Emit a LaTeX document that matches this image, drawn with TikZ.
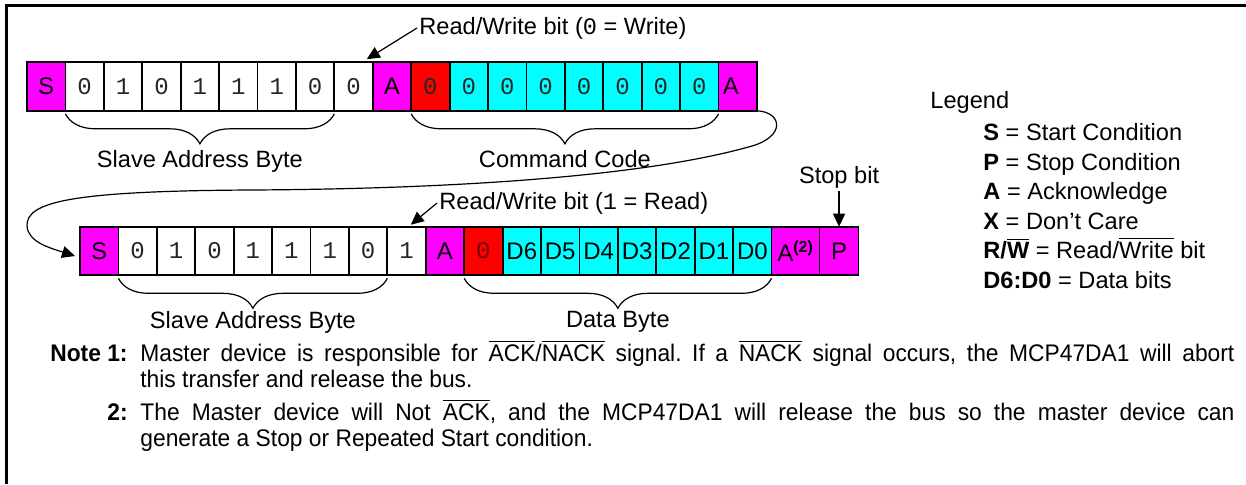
\documentclass[tikz,border=0pt]{standalone}
\usepackage{fontspec}
\setmainfont{Liberation Sans}
\newfontfamily\bitfont{Liberation Mono}
\newfontfamily\notefont[FakeStretch=0.95]{Liberation Sans}
\usetikzlibrary{arrows.meta,positioning,decorations.pathreplacing}
\definecolor{startmag}{RGB}{255,0,255}
\definecolor{datacyan}{RGB}{0,255,255}
\definecolor{zerored}{RGB}{255,0,0}
\newcommand{\ovl}[1]{$\overline{\mbox{#1}}$}
\frenchspacing

\tikzset{
  cell/.style={draw, line width=0.9pt, outer sep=0pt, inner sep=0pt, minimum width=19.21pt, minimum height=24.3pt, font=\fontsize{12}{14}\selectfont},
  magcell/.style={cell, fill=startmag},
  bitcell/.style={cell, font=\fontsize{12}{14}\bitfont, text=black!85},
  redbit/.style={bitcell, fill=zerored},
  cyanbit/.style={bitcell, fill=datacyan},
  cyancell/.style={cell, fill=datacyan},
  bytebrace/.style={decorate, decoration={brace, mirror, amplitude=15pt}, line width=0.6pt},
  pointer/.style={-{Triangle[length=6.5pt,width=6pt]}, line width=0.6pt},
  lbl/.style={inner sep=1pt},
  notetext/.style={anchor=base west, inner sep=0pt, text width=547pt, align=justify, font=\notefont\fontsize{12}{13}\selectfont},
  notelbl/.style={anchor=base east, inner sep=0pt, font=\notefont\fontsize{12}{13}\selectfont\bfseries},
}

\begin{document}
\begin{tikzpicture}[x=0.5pt, y=-0.5pt, font=\fontsize{11.8}{14}\selectfont]
  \useasboundingbox (0,0) rectangle (1246,484);
  \draw[line width=1.3pt] (6.5,484) -- (6.5,5.5) -- (1246,5.5);

  % write: address, command code
  \foreach \txt/\sty [count=\i from 0] in {S/magcell, 0/bitcell, 1/bitcell, 0/bitcell, 1/bitcell, 1/bitcell, 1/bitcell, 0/bitcell, 0/bitcell, A/magcell, 0/redbit, 0/cyanbit, 0/cyanbit, 0/cyanbit, 0/cyanbit, 0/cyanbit, 0/cyanbit, 0/cyanbit, {\makebox[15pt][l]{A}}/magcell}
    \node[\sty] (a\i) at ({27+38.42*(\i+0.5)}, 86.5) {\txt};

  % read: address, data byte
  \foreach \txt/\sty [count=\i from 0] in {S/magcell, 0/bitcell, 1/bitcell, 0/bitcell, 1/bitcell, 1/bitcell, 1/bitcell, 0/bitcell, 1/bitcell, A/magcell, 0/redbit, D6/cyancell, D5/cyancell, D4/cyancell, D3/cyancell, D2/cyancell, D1/cyancell, D0/cyancell}
    \node[\sty] (b\i) at ({80+38.42*(\i+0.5)}, 251) {\txt};
  \node[magcell, minimum width=24pt, right=0pt of b17] (nack) {A\textsuperscript{\textbf{(2)}}};
  \node[magcell, minimum width=19.5pt, right=0pt of nack] (pbox) {P};
  \node[redbit, text=black!55!zerored] at (b10) {0};

  % braces
  \draw[bytebrace] ([yshift=-1.5pt]a1.south west) -- ([yshift=-1.5pt]a7.south east) node[lbl, midway, below=17pt] {Slave Address Byte};
  \draw[bytebrace] ([yshift=-1.5pt]a10.south west) -- ([yshift=-1.5pt]a17.south east) node[lbl, midway, below=17pt] {Command Code};
  \draw[bytebrace] ([yshift=-1.5pt]b1.south west) -- ([yshift=-1.5pt]b7.south east) node[lbl, midway, below=15pt] {Slave Address Byte};
  \draw[bytebrace] ([yshift=-1.5pt]b10.south west) -- ([yshift=-1.5pt]b17.south east) node[lbl, midway, below=15pt] {Data Byte};

  % pointers
  \node[lbl, anchor=west] (rwone) at (417,28) {Read/Write bit ({\bitfont 0} = Write)};
  \draw[pointer] (rwone.west) -- ([xshift=-3pt,yshift=1.5pt]a8.north east);
  \node[lbl, anchor=west] (rwtwo) at (437,203) {Read/Write bit ({\bitfont 1} = Read)};
  \draw[pointer] (rwtwo.west) -- ([xshift=-7.5pt,yshift=1pt]b8.north east);
  \node[lbl, above=18pt of pbox] (stoplbl) {Stop bit};
  \draw[pointer] (stoplbl.south) -- (pbox.north);
  \draw[pointer] (a18.south east) .. controls (782,112) and (786,136) .. (752,146)
    .. controls (640,178) and (440,189) .. (250,190)
    .. controls (70,191) and (26,202) .. (27,226)
    .. controls (28,242) and (50,248) .. ([xshift=-2.5pt,yshift=-2.5pt]b0.west);

  % legend
  \node[inner sep=0pt, anchor=base west] (legend) at (930,108.5) {Legend};
  \foreach \key/\desc [count=\k from 0] in {S/Start Condition, P/Stop Condition, A/Acknowledge, X/Don’t Care, {R/\ovl{W}}/{Read/\ovl{Write} bit}, D6:D0/Data bits}
    \node[inner sep=0pt, anchor=base west] (key\k) at (983, {140.5+29.5*\k}) {\textbf{\key} = \desc};

  % notes
  \node[notelbl] (noteone) at (128,361) {Note 1:};
  \node[notetext] (noteonetxt) at (140,361) {Master device is responsible for \ovl{ACK}/\ovl{NACK} signal. If a \ovl{NACK} signal occurs, the MCP47DA1 will abort\linebreak this transfer and release the bus.};
  \node[notelbl] (notetwo) at (128,420) {2:};
  \node[notetext] (notetwotxt) at (140,420) {The Master device will Not \ovl{ACK}, and the MCP47DA1 will release the bus so the master device can\linebreak generate a Stop or Repeated Start condition.};
\end{tikzpicture}
\end{document}
